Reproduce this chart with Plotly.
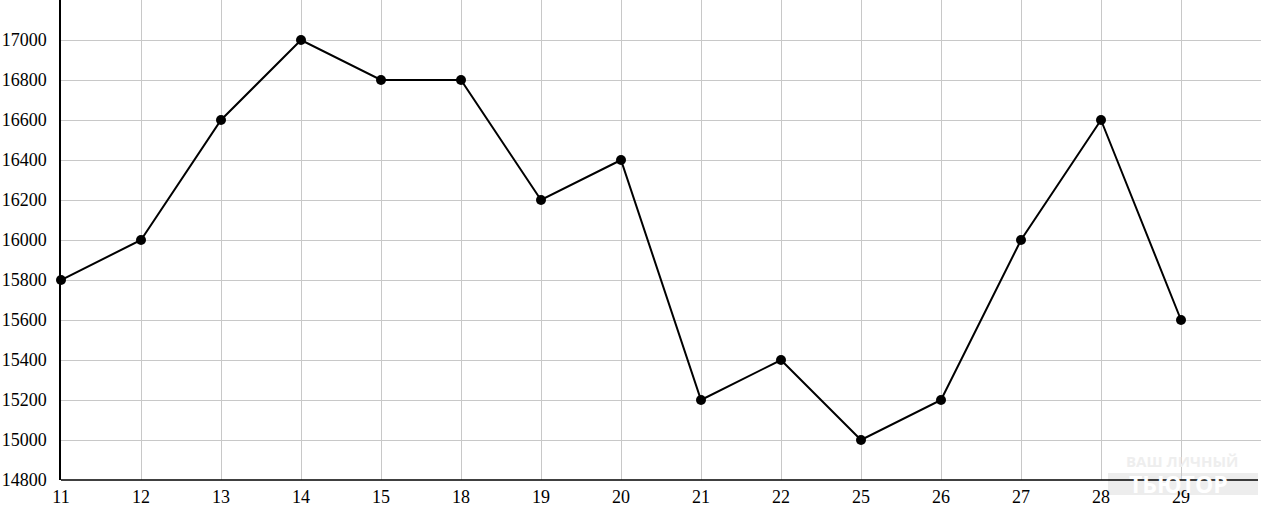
import plotly.graph_objects as go

days = ["11", "12", "13", "14", "15", "18", "19", "20", "21", "22", "25", "26", "27", "28", "29"]
values = [15800, 16000, 16600, 17000, 16800, 16800, 16200, 16400, 15200, 15400, 15000, 15200, 16000, 16600, 15600]
y_ticks = list(range(14800, 17201, 200))
watermark_top = "ВАШ ЛИЧНЫЙ"
watermark_bottom = "ТЬЮТОР"

idx = list(range(len(days)))

fig = go.Figure()
fig.add_trace(go.Scatter(
    x=idx, y=values, mode="lines+markers",
    line=dict(color="black", width=2),
    marker=dict(color="black", size=10),
    showlegend=False, cliponaxis=False,
))

font = dict(family="Liberation Serif, DejaVu Serif, serif", size=18, color="black")

# faint watermark
fig.add_shape(type="rect", xref="paper", yref="paper",
              x0=(1108 - 61) / 1200, x1=(1258 - 61) / 1200,
              y0=-15 / 480, y1=7 / 480,
              fillcolor="#ededed", line=dict(width=0), layer="below")
fig.add_annotation(xref="paper", yref="paper", x=(1182 - 61) / 1200, y=19 / 480,
                   xanchor="center", yanchor="middle",
                   text="<b>" + watermark_top + "</b>", showarrow=False,
                   font=dict(family="Open Sans, DejaVu Sans, sans-serif", size=15, color="#eeeeee"))
fig.add_annotation(xref="paper", yref="paper", x=(1178 - 61) / 1200, y=-4 / 480,
                   xanchor="center", yanchor="middle",
                   text="<b>" + watermark_bottom + "</b>", showarrow=False,
                   font=dict(family="Open Sans, DejaVu Sans, sans-serif", size=23, color="white"))
# x-axis line drawn on top of watermark
fig.add_shape(type="line", xref="paper", yref="paper", x0=0, x1=(1258 - 61) / 1200,
              y0=0, y1=0, line=dict(color="black", width=1.5), layer="above")

fig.update_layout(
    width=1262, height=521,
    margin=dict(l=61, r=1, t=0, b=41),
    paper_bgcolor="white", plot_bgcolor="white",
    font=font,
    xaxis=dict(
        range=[0, len(days)],
        tickmode="array",
        tickvals=idx + [len(days)],
        ticktext=days + [""],
        showgrid=True, gridcolor="#c8c8c8", gridwidth=1,
        showline=False,
        zeroline=False, ticks="", ticklabelstandoff=4,
        tickfont=font, automargin=False,
    ),
    yaxis=dict(
        range=[14800, 17200],
        tickmode="array",
        tickvals=y_ticks,
        ticktext=[str(v) if v < 17200 else "" for v in y_ticks],
        showgrid=True, gridcolor="#c8c8c8", gridwidth=1,
        showline=True, linecolor="black", linewidth=1.5,
        zeroline=False, ticks="", ticklabelstandoff=9,
        tickfont=font, automargin=False,
    ),
)

fig.write_html(
    "out.html",
    config={"displayModeBar": False},
    post_script="document.body.style.margin='0';document.body.style.overflow='hidden';",
)
